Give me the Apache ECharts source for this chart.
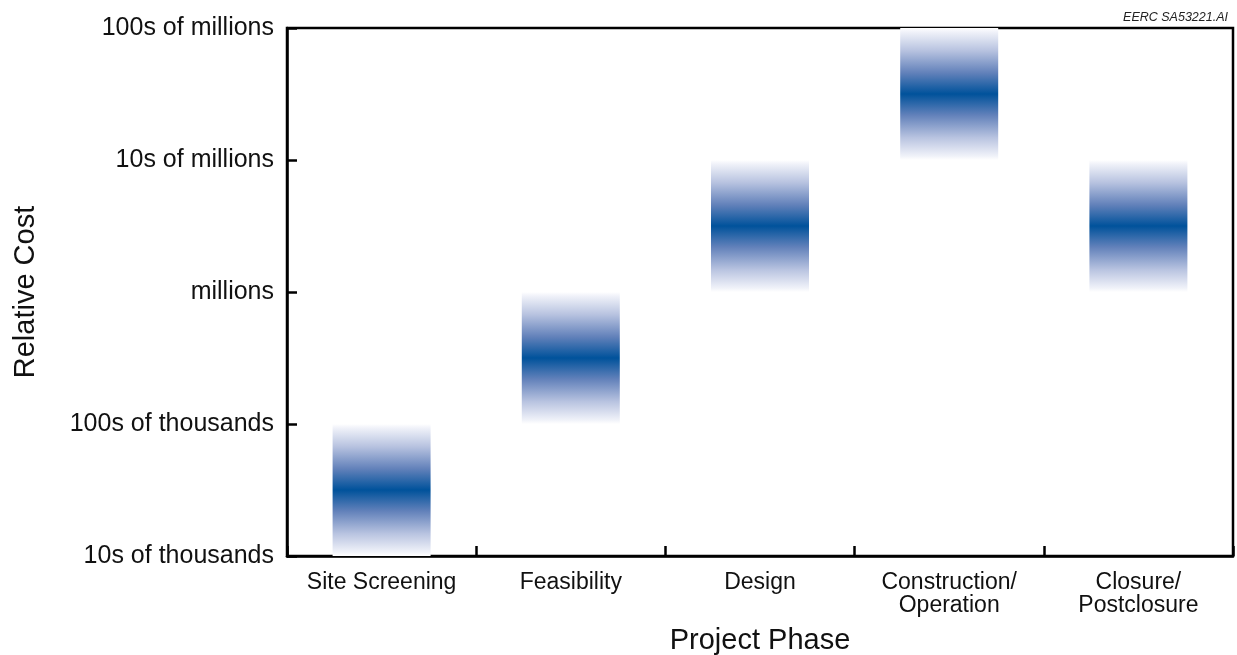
<!DOCTYPE html>
<html><head><meta charset="utf-8">
<script src="https://cdn.jsdelivr.net/npm/echarts@6/dist/echarts.min.js"></script>
<style>html,body{margin:0;padding:0;background:#fff}#c{width:1237px;height:655px}</style>
</head><body><div id="c"></div>
<script>
const categories = ['Site Screening', 'Feasibility', 'Design', 'Construction/\nOperation', 'Closure/\nPostclosure'];
const costLevels = ['10s of thousands', '100s of thousands', 'millions', '10s of millions', '100s of millions'];
// range of each phase, expressed as index into costLevels (decades)
const lowLevel = [0, 1, 2, 3, 2];
const highLevel = [1, 2, 3, 4, 3];

const spans = highLevel.map((h, i) => h - lowLevel[i]);
const grad = {
  type: 'linear', x: 0, y: 0, x2: 0, y2: 1,
  colorStops: [
    {offset: 0, color: '#ffffff'},
    {offset: 0.03, color: '#f0f2f9'},
    {offset: 0.17, color: '#b8c3e0'},
    {offset: 0.34, color: '#6281ba'},
    {offset: 0.5, color: '#00529b'},
    {offset: 0.66, color: '#6281ba'},
    {offset: 0.83, color: '#b8c3e0'},
    {offset: 0.97, color: '#f0f2f9'},
    {offset: 1, color: '#ffffff'}
  ]
};
const font = 'Liberation Sans, Arial, sans-serif';
const chart = echarts.init(document.getElementById('c'));
chart.setOption({
  animation: false,
  title: {
    text: 'EERC SA53221.AI', right: 4, top: 6,
    textStyle: {fontFamily: font, fontSize: 12.5, fontStyle: 'italic', fontWeight: 'normal', color: '#222'}
  },
  grid: {left: 287, right: 4, top: 28, bottom: 99, show: true, borderColor: '#000', borderWidth: 2.5,
    containLabel: false, outerBoundsMode: 'none'},
  xAxis: {
    type: 'category', data: categories, boundaryGap: true,
    name: 'Project Phase', nameLocation: 'middle', nameGap: 70,
    nameTextStyle: {fontFamily: font, fontSize: 29, color: '#111'},
    axisLine: {show: true, lineStyle: {color: '#000', width: 2.5}},
    axisTick: {show: true, alignWithLabel: false, inside: true, length: 10, interval: 0,
      lineStyle: {color: '#000', width: 2.5}},
    splitLine: {show: false},
    axisLabel: {fontFamily: font, fontSize: 23, color: '#111', lineHeight: 23, margin: 15, interval: 0,
      verticalAlign: 'top', hideOverlap: false}
  },
  yAxis: {
    type: 'value', min: 0, max: 4, interval: 1,
    name: 'Relative Cost', nameLocation: 'middle', nameGap: 247, nameRotate: 90,
    nameTextStyle: {fontFamily: font, fontSize: 29, color: '#111'},
    axisLine: {show: true, lineStyle: {color: '#000', width: 2.5}},
    axisTick: {show: true, inside: true, length: 10, lineStyle: {color: '#000', width: 2.5}},
    splitLine: {show: false},
    axisLabel: {fontFamily: font, fontSize: 25, color: '#111', margin: 13,
      formatter: v => costLevels[Math.round(v)]}
  },
  series: [
    {type: 'bar', stack: 'c', data: lowLevel, itemStyle: {color: 'transparent'}, barWidth: 98, silent: true},
    {type: 'bar', stack: 'c', data: spans, itemStyle: {color: grad}, barWidth: 98}
  ]
});
</script></body></html>
